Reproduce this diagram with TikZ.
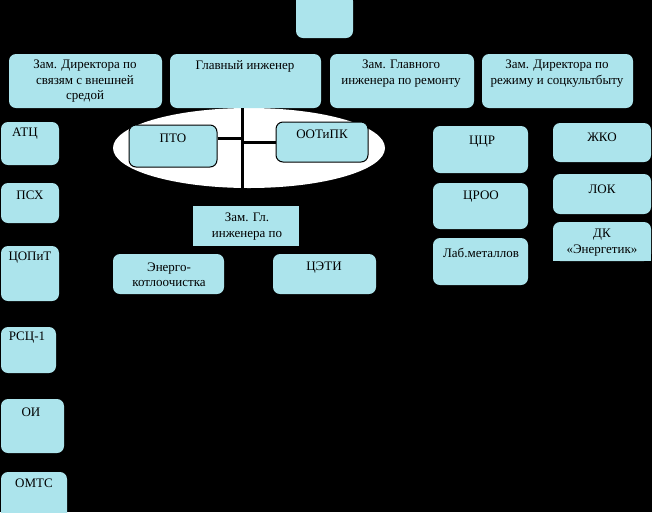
\documentclass[tikz,border=0pt]{standalone}
\usepackage{fontspec}
\setmainfont{Liberation Serif}
\newfontfamily\boxfont{Liberation Serif}
\usetikzlibrary{fit}
\definecolor{boxfill}{RGB}{172,228,236}
\tikzset{
  box/.style={fill=boxfill, rounded corners=7pt, inner sep=0pt},
  sbox/.style={fill=boxfill, inner sep=0pt},
  bbox/.style={fill=boxfill, draw=black, line width=1pt, rounded corners=7pt, inner sep=0pt},
  txt/.style={inner sep=0pt, align=center, text=black, font=\boxfont\fontsize{13}{15.5}\selectfont},
  trunk/.style={line width=3pt, draw=black}
}
\begin{document}
\begin{tikzpicture}[x=1pt,y=-1pt]
\fill[black] (0,0) rectangle (652,512);
\useasboundingbox (0,0) rectangle (652,512);
\clip (0,0) rectangle (652,512);
% ellipse
\fill[white] (249,148) ellipse [x radius=136, y radius=40];
% boxes
\node[box, fit={(296,-6) (353,38)}] (top) {};
\node[box, fit={(9,54) (162,108)}] (zdv) {};
\node[box, fit={(170,54) (321,108)}] (gi) {};
\node[box, fit={(330,54) (474,108)}] (zgr) {};
\node[box, fit={(482,54) (633,108)}] (zds) {};
\node[bbox, fit={(129,125) (217,167)}] (pto) {};
\node[bbox, fit={(276,122) (368,162)}] (ootipk) {};
\node[sbox, fit={(193,206) (299,246)}] (zgl) {};
\node[box, fit={(113,254) (224,294)}] (energo) {};
\node[box, fit={(273,254) (376,294)}] (tseti) {};
\node[box, fit={(433,126) (528,173)}] (tscr) {};
\node[box, fit={(433,183) (528,229)}] (troo) {};
\node[box, fit={(433,238) (528,285)}] (lab) {};
\node[box, fit={(553,123) (651,162)}] (zhko) {};
\node[box, fit={(553,174) (651,214)}] (lok) {};
\node[box, fit={(553,222) (651,261)}] (dk) {};
\fill[boxfill] (553,245) rectangle (651,261);
\node[box, fit={(1,122) (59,165)}] (atc) {};
\node[box, fit={(1,183) (59,223)}] (psh) {};
\node[box, fit={(1,246) (59,301)}] (copit) {};
\node[box, fit={(1,327) (56,373)}] (rsc) {};
\node[box, fit={(1,399) (64,453)}] (oi) {};
\node[box, fit={(1,472) (67,530)}] (omts) {};
% connectors
\coordinate (t1) at (242,108);
\coordinate (t2) at (242,206);
\draw[trunk] (t1) -- (t2);
\draw[trunk] (pto.east |- 0,138) -- (t1 |- 0,138);
\draw[trunk] (t1 |- 0,142) -- (ootipk.west |- 0,142);
% texts
\node[txt] (zdv-t) at (85,81.5) {Зам. Директора по\\связям с внешней\\средой};
\node[txt] (gi-t) at (245,66) {Главный инженер};
\node[txt] (zgr-t) at (401,73.5) {Зам. Главного\\инженера по ремонту};
\node[txt] (zds-t) at (557,73.5) {Зам. Директора по\\режиму и соцкультбыту};
\node[txt] (pto-t) at (173,138) {ПТО};
\node[txt] (ootipk-t) at (322,134) {ООТиПК};
\node[txt] (zgl-t) at (247,226.5) {Зам. Гл.\\инженера по};
\node[txt] (energo-t) at (169,275) {Энерго-\\котлоочистка};
\node[txt] (tseti-t) at (324,268) {ЦЭТИ};
\node[txt] (tscr-t) at (482,142) {ЦЦР};
\node[txt] (troo-t) at (481,197) {ЦРОО};
\node[txt] (lab-t) at (481,253) {Лаб.металлов};
\node[txt] (zhko-t) at (602,137) {ЖКО};
\node[txt] (lok-t) at (602,189) {ЛОК};
\node[txt] (dk-t) at (602,242.5) {ДК\\«Энергетик»};
\node[txt] (atc-t) at (25,134) {АТЦ};
\node[txt] (psh-t) at (30,195) {ПСХ};
\node[txt] (copit-t) at (30,258) {ЦОПиТ};
\node[txt] (rsc-t) at (27,338) {РСЦ-1};
\node[txt] (oi-t) at (31,412) {ОИ};
\node[txt] (omts-t) at (34,483) {ОМТС};
\end{tikzpicture}
\end{document}
